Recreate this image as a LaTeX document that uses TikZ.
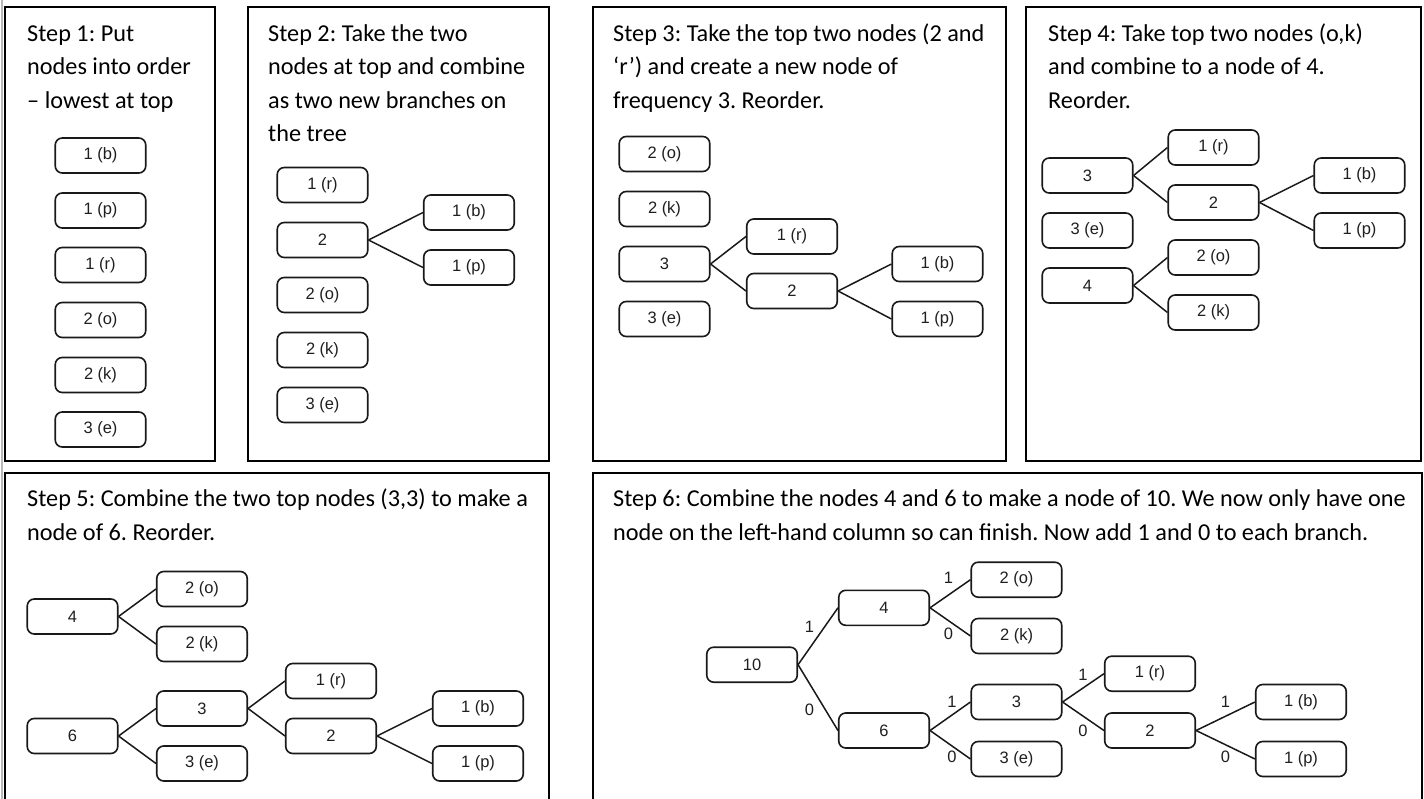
\documentclass[tikz,border=0pt]{standalone}
\usepackage{fontspec}
\setmainfont{Carlito}
\newfontfamily\boxfont{Liberation Sans}
\usetikzlibrary{calc}
\frenchspacing

% two branches from a parent box to its children
\newcommand\twobranch[3]{%
  \draw[branch] (#1.east) -- (#2.west);
  \draw[branch] (#1.east) -- (#3.west);}

\begin{document}
\begin{tikzpicture}[x=1pt,y=-1pt,
  panel/.style={draw=black, line width=2pt},
  hnode/.style={draw=black!90, line width=1.6pt, rounded corners=7pt,
    minimum width=90.5pt, minimum height=35pt, inner sep=0pt,
    font=\boxfont\fontsize{16.5}{18}\selectfont, text=black!88},
  branch/.style={draw=black!90, line width=1.5pt},
  bit/.style={inner sep=0pt, font=\boxfont\fontsize{16.5}{18}\selectfont, text=black!88},
  caption/.style={anchor=base west, inner sep=0pt, font=\fontsize{24.25}{28}\selectfont}]

\useasboundingbox (0,0) rectangle (1424,799);
\fill[white] (0,0) rectangle (1424,799);
\draw[gray!55, line width=2pt] (1.5,0) -- (1.5,799);

% ---------- frames ----------
\draw[panel] (5,7) rectangle (215,461);
\draw[panel] (248,7) rectangle (549,461);
\draw[panel] (593,7) rectangle (1006,461);
\draw[panel] (1026,7) rectangle (1421,461);
\draw[panel] (5,805) -- (5,473) -- (549,473) -- (549,805);
\draw[panel] (593,805) -- (593,473) -- (1422,473) -- (1422,805);

% ---------- step 1 ----------
\node[caption] (c1a) at (27,41.5)  {Step 1: Put};
\node[caption] (c1b) at (27,75)    {nodes into order};
\node[caption] (c1c) at (27,108.5) {– lowest at top};
\node[hnode] (a1) at (100.5,155.5) {1 (b)};
\node[hnode] (a2) at (100.5,210.5) {1 (p)};
\node[hnode] (a3) at (100.5,265)   {1 (r)};
\node[hnode] (a4) at (100.5,320)   {2 (o)};
\node[hnode] (a5) at (100.5,375)   {2 (k)};
\node[hnode] (a6) at (100.5,429.5) {3 (e)};

% ---------- step 2 ----------
\node[caption] (c2a) at (268,41.5)  {Step 2: Take the two};
\node[caption] (c2b) at (268,75)    {nodes at top and combine};
\node[caption] (c2c) at (268,108.5) {as two new branches on};
\node[caption] (c2d) at (268,142)   {the tree};
\node[hnode] (b1) at (322.5,185) {1 (r)};
\node[hnode] (b2) at (322.5,240) {2};
\node[hnode] (b3) at (322.5,295) {2 (o)};
\node[hnode] (b4) at (322.5,350) {2 (k)};
\node[hnode] (b5) at (322.5,405) {3 (e)};
\node[hnode] (b6) at (469,212.5) {1 (b)};
\node[hnode] (b7) at (469,267.5) {1 (p)};
\twobranch{b2}{b6}{b7}

% ---------- step 3 ----------
\node[caption] (c3a) at (613,41.5)  {Step 3: Take the top two nodes (2 and};
\node[caption] (c3b) at (613,75)    {‘r’) and create a new node of};
\node[caption] (c3c) at (613,108.5) {frequency 3. Reorder.};
\node[hnode] (d1) at (664.5,154) {2 (o)};
\node[hnode] (d2) at (664.5,209) {2 (k)};
\node[hnode] (d3) at (664.5,264) {3};
\node[hnode] (d4) at (664.5,319) {3 (e)};
\node[hnode] (d5) at (792,236.5) {1 (r)};
\node[hnode] (d6) at (792,291)   {2};
\node[hnode] (d7) at (937.5,264) {1 (b)};
\node[hnode] (d8) at (937.5,319) {1 (p)};
\twobranch{d3}{d5}{d6}
\twobranch{d6}{d7}{d8}

% ---------- step 4 ----------
\node[caption] (c4a) at (1048,41.5)  {Step 4: Take top two nodes (o,k)};
\node[caption] (c4b) at (1048,75)    {and combine to a node of 4.};
\node[caption] (c4c) at (1048,108.5) {Reorder.};
\node[hnode] (f1) at (1087.5,175.5) {3};
\node[hnode] (f2) at (1087.5,230.5) {3 (e)};
\node[hnode] (f3) at (1087.5,285.5) {4};
\node[hnode] (f4) at (1213.5,147.5) {1 (r)};
\node[hnode] (f5) at (1213.5,202.5) {2};
\node[hnode] (f6) at (1213.5,257.5) {2 (o)};
\node[hnode] (f7) at (1213.5,312.5) {2 (k)};
\node[hnode] (f8) at (1359.5,175.5) {1 (b)};
\node[hnode] (f9) at (1359.5,230.5) {1 (p)};
\twobranch{f1}{f4}{f5}
\twobranch{f5}{f8}{f9}
\twobranch{f3}{f6}{f7}

% ---------- step 5 ----------
\node[caption] (c5a) at (27,506.7) {Step 5: Combine the two top nodes (3,3) to make a};
\node[caption] (c5b) at (27,540.2) {node of 6. Reorder.};
\node[hnode] (g1)  at (72.5,616.5) {4};
\node[hnode] (g2)  at (72.5,736)   {6};
\node[hnode] (g3)  at (202,589)    {2 (o)};
\node[hnode] (g4)  at (202,644)    {2 (k)};
\node[hnode] (g5)  at (202,708.5)  {3};
\node[hnode] (g6)  at (202,763.5)  {3 (e)};
\node[hnode] (g7)  at (331,681)    {1 (r)};
\node[hnode] (g8)  at (331,736)    {2};
\node[hnode] (g9)  at (478,708.5)  {1 (b)};
\node[hnode] (g10) at (478,763.5)  {1 (p)};
\twobranch{g1}{g3}{g4}
\twobranch{g2}{g5}{g6}
\twobranch{g5}{g7}{g8}
\twobranch{g8}{g9}{g10}

% ---------- step 6 ----------
\node[caption] (c6a) at (613,506.7) {Step 6: Combine the nodes 4 and 6 to make a node of 10. We now only have one};
\node[caption] (c6b) at (613,540.2) {node on the left-hand column so can finish. Now add 1 and 0 to each branch.};
\node[hnode] (h1)  at (752,664.7)   {10};
\node[hnode] (h2)  at (884,607.8)   {4};
\node[hnode] (h3)  at (884,730.5)   {6};
\node[hnode] (h4)  at (1016.5,579.7) {2 (o)};
\node[hnode] (h5)  at (1016.5,636)   {2 (k)};
\node[hnode] (h6)  at (1016.5,702)   {3};
\node[hnode] (h7)  at (1016.5,759)   {3 (e)};
\node[hnode] (h8)  at (1150,673.7)  {1 (r)};
\node[hnode] (h9)  at (1150,730.5)  {2};
\node[hnode] (h10) at (1301,702)    {1 (b)};
\node[hnode] (h11) at (1301,759)    {1 (p)};
\twobranch{h1}{h2}{h3}
\twobranch{h2}{h4}{h5}
\twobranch{h3}{h6}{h7}
\twobranch{h6}{h8}{h9}
\twobranch{h9}{h10}{h11}

% branch codes
\node[bit] (k1)  at ($(h2.west)+(-28.5,19.5)$)  {1};
\node[bit] (k2)  at ($(h3.west)+(-28.5,-20.5)$) {0};
\node[bit] (k3)  at ($(h4.west)+(-22,-1.4)$)    {1};
\node[bit] (k4)  at ($(h5.west)+(-22,-2)$)      {0};
\node[bit] (k5)  at ($(h6.west)+(-18.5,0)$)     {1};
\node[bit] (k6)  at ($(h7.west)+(-18.5,-1.7)$)  {0};
\node[bit] (k7)  at ($(h8.west)+(-21,1.3)$)     {1};
\node[bit] (k8)  at ($(h9.west)+(-21,0)$)       {0};
\node[bit] (k9)  at ($(h10.west)+(-29.5,0)$)    {1};
\node[bit] (k10) at ($(h11.west)+(-29.5,-1.7)$) {0};
\end{tikzpicture}
\end{document}
